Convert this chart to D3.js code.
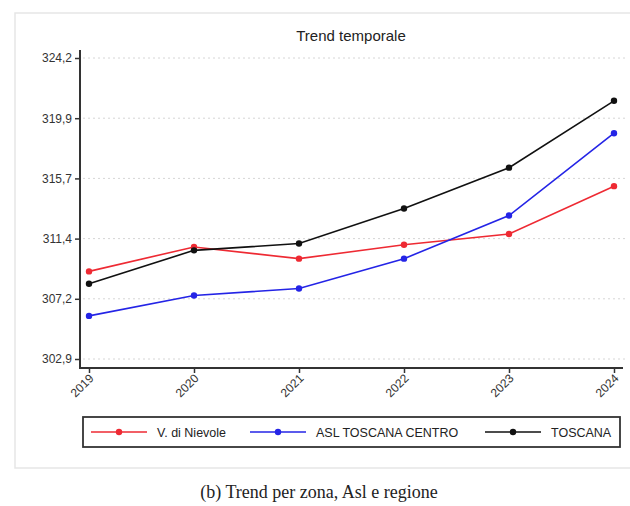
<!DOCTYPE html>
<meta charset="utf-8">
<script src="https://d3js.org/d3.v7.min.js"></script>
<style>
  body { margin: 0; background: #fff; }
</style>
<body>
<div id="chart"></div>
</body>
<script>
    // data
    var years = ["2019", "2020", "2021", "2022", "2023", "2024"];
    var nievole = [309.10, 310.83, 310.00, 310.99, 311.75, 315.13];
    var aslCentro = [305.95, 307.39, 307.89, 310.00, 313.05, 318.88];
    var toscana = [308.23, 310.59, 311.07, 313.55, 316.44, 321.17];
    var yTicks = [302.9, 307.16, 311.42, 315.68, 319.94, 324.2];
    var seriesNames = ["V. di Nievole", "ASL TOSCANA CENTRO", "TOSCANA"];
    var seriesColors = ["#ee2a33", "#2424e6", "#111111"];

    var W = 630, H = 506;
    var svg = d3.select("#chart").append("svg")
        .attr("width", W).attr("height", H)
        .attr("font-family", "'Liberation Sans', Arial, sans-serif");

    // outer panel
    svg.append("rect")
        .attr("x", 15).attr("y", 13).attr("width", 640).attr("height", 455)
        .attr("fill", "#fff").attr("stroke", "#e6e6e6").attr("stroke-width", 1.5);

    var x = d3.scalePoint().domain(years).range([89, 614]);
    var y = d3.scaleLinear().domain([302.9, 324.2]).range([359, 58]);

    // gridlines
    svg.append("g").selectAll("line")
        .data(yTicks).enter().append("line")
        .attr("x1", 83).attr("x2", 626)
        .attr("y1", function (d) { return y(d); })
        .attr("y2", function (d) { return y(d); })
        .attr("stroke", "#d6d6d6").attr("stroke-width", 1)
        .attr("stroke-dasharray", "2,3");

    // y axis
    var yAxis = svg.append("g")
        .attr("transform", "translate(80,0)")
        .call(d3.axisLeft(y).tickValues(yTicks).tickSize(5).tickSizeOuter(0)
            .tickFormat(function (d) { return d3.format(".1f")(d).replace(".", ","); }));
    yAxis.select(".domain").remove();
    yAxis.selectAll(".tick line").attr("stroke", "#333").attr("stroke-width", 1.5);
    yAxis.selectAll(".tick text")
        .attr("font-family", "'Liberation Sans', Arial, sans-serif")
        .attr("font-size", 12).attr("fill", "#333")
        .attr("x", -8);
    svg.append("line")
        .attr("x1", 80).attr("x2", 80).attr("y1", 50).attr("y2", 369)
        .attr("stroke", "#333").attr("stroke-width", 2);

    // x axis
    var xAxis = svg.append("g")
        .attr("transform", "translate(0,368)")
        .call(d3.axisBottom(x).tickSize(5).tickSizeOuter(0));
    xAxis.select(".domain").remove();
    xAxis.selectAll(".tick line").attr("stroke", "#333").attr("stroke-width", 1.5);
    xAxis.selectAll(".tick text")
        .attr("font-family", "'Liberation Sans', Arial, sans-serif")
        .attr("font-size", 12).attr("fill", "#333")
        .attr("text-anchor", "end")
        .attr("dy", null).attr("y", 0)
        .attr("transform", "translate(5,11) rotate(-45)");
    svg.append("line")
        .attr("x1", 79).attr("x2", 623).attr("y1", 368).attr("y2", 368)
        .attr("stroke", "#333").attr("stroke-width", 2);

    // title
    svg.append("text")
        .attr("x", 351).attr("y", 41)
        .attr("text-anchor", "middle")
        .attr("font-size", 15).attr("fill", "#222")
        .text("Trend temporale");

    // lines and dots
    var allSeries = [nievole, aslCentro, toscana];
    var line = d3.line()
        .x(function (d, i) { return x(years[i]); })
        .y(function (d) { return y(d); });

    allSeries.forEach(function (vals, k) {
        svg.append("path")
            .datum(vals)
            .attr("d", line)
            .attr("fill", "none")
            .attr("stroke", seriesColors[k])
            .attr("stroke-width", 1.6);
        svg.append("g").selectAll("circle")
            .data(vals).enter().append("circle")
            .attr("cx", function (d, i) { return x(years[i]); })
            .attr("cy", function (d) { return y(d); })
            .attr("r", 3.2)
            .attr("fill", seriesColors[k]);
    });

    // legend
    svg.append("rect")
        .attr("x", 83).attr("y", 417).attr("width", 537).attr("height", 30)
        .attr("fill", "#fff").attr("stroke", "#333").attr("stroke-width", 1.8);

    var legX = [91, 250, 485];
    seriesNames.forEach(function (name, k) {
        var g = svg.append("g").attr("transform", "translate(" + legX[k] + ",432)");
        g.append("line").attr("x1", 0).attr("x2", 56).attr("y1", 0).attr("y2", 0)
            .attr("stroke", seriesColors[k]).attr("stroke-width", 1.6);
        g.append("circle").attr("cx", 28).attr("cy", 0).attr("r", 3.2)
            .attr("fill", seriesColors[k]);
        g.append("text").attr("x", 66).attr("y", 4.5)
            .attr("font-size", 12.5).attr("fill", "#222")
            .text(name);
    });

    // caption
    svg.append("text")
        .attr("x", 319).attr("y", 498)
        .attr("text-anchor", "middle")
        .attr("font-family", "'Liberation Serif', 'DejaVu Serif', serif")
        .attr("font-size", 18).attr("fill", "#222")
        .text("(b) Trend per zona, Asl e regione");
</script>
